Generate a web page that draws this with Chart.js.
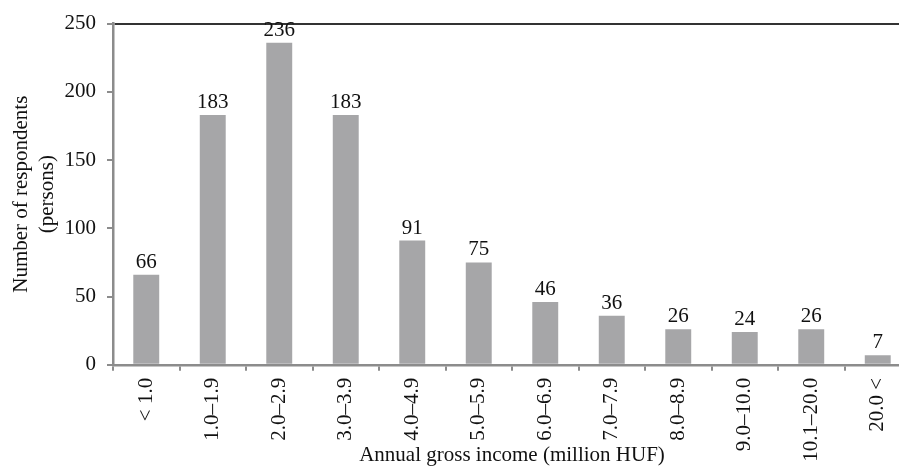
<!DOCTYPE html>
<html>
<head>
<meta charset="utf-8">
<script src="https://cdn.jsdelivr.net/npm/chart.js@4"></script>
<style>
  html, body { margin: 0; padding: 0; background: #fff; overflow: hidden; }
  #wrap { width: 911px; height: 466px; }
</style>
</head>
<body>
<div id="wrap"><canvas id="incomeChart"></canvas></div>
<script>
const categories = ["< 1.0", "1.0–1.9", "2.0–2.9", "3.0–3.9", "4.0–4.9", "5.0–5.9",
  "6.0–6.9", "7.0–7.9", "8.0–8.9", "9.0–10.0", "10.1–20.0", "20.0 <"];
const respondents = [66, 183, 236, 183, 91, 75, 46, 36, 26, 24, 26, 7];
const yTicks = [0, 50, 100, 150, 200, 250];

const serif = "'Liberation Serif', 'Times New Roman', serif";
const axisGray = "#8c8c8c";

// value labels above each bar
const barLabels = {
  id: "barLabels",
  afterDatasetsDraw(chart) {
    const ctx = chart.ctx;
    const meta = chart.getDatasetMeta(0);
    ctx.save();
    ctx.font = "21px " + serif;
    ctx.fillStyle = "#111";
    ctx.textAlign = "center";
    ctx.textBaseline = "bottom";
    meta.data.forEach((bar, i) => {
      ctx.fillText(respondents[i], bar.x, bar.y - 2);
    });
    ctx.restore();
  }
};

const ctx = document.getElementById("incomeChart").getContext("2d");

new Chart(ctx, {
  type: "bar",
  data: {
    labels: categories,
    datasets: [{
      data: respondents,
      backgroundColor: "#a6a6a8",
      barPercentage: 0.39,
      categoryPercentage: 1
    }]
  },
  options: {
    responsive: true,
    maintainAspectRatio: false,
    animation: false,
    layout: { autoPadding: false, padding: { top: 15, left: 0, right: 0, bottom: 0 } },
    plugins: {
      legend: { display: false },
      tooltip: { enabled: false }
    },
    scales: {
      x: {
        grid: {
          offset: true,
          drawOnChartArea: false,
          drawTicks: true,
          tickLength: 6,
          color: axisGray,
          lineWidth: 2
        },
        border: { color: axisGray, width: 2.5 },
        ticks: {
          color: "#111",
          font: { family: serif, size: 21 },
          maxRotation: 90,
          minRotation: 90,
          padding: 7
        },
        title: {
          display: true,
          text: "Annual gross income (million HUF)",
          color: "#111",
          font: { family: serif, size: 21 },
          padding: { top: -26, bottom: -2 }
        }
      },
      y: {
        min: 0,
        max: 250,
        afterBuildTicks: axis => {
          axis.ticks = yTicks.map(v => ({ value: v }));
        },
        grid: {
          drawTicks: true,
          tickLength: 6,
          tickColor: axisGray,
          lineWidth: 2,
          color: c => (c.tick && c.tick.value === 250 ? "#333" : "rgba(0,0,0,0)")
        },
        border: { color: axisGray, width: 2.5 },
        ticks: {
          color: "#111",
          font: { family: serif, size: 21 },
          padding: 11
        },
        title: {
          display: true,
          text: ["Number of respondents", "(persons)"],
          color: "#111",
          font: { family: serif, size: 21, lineHeight: 1.25 },
          padding: { top: 8, bottom: -7 }
        }
      }
    }
  },
  plugins: [barLabels]
});
</script>
</body>
</html>
